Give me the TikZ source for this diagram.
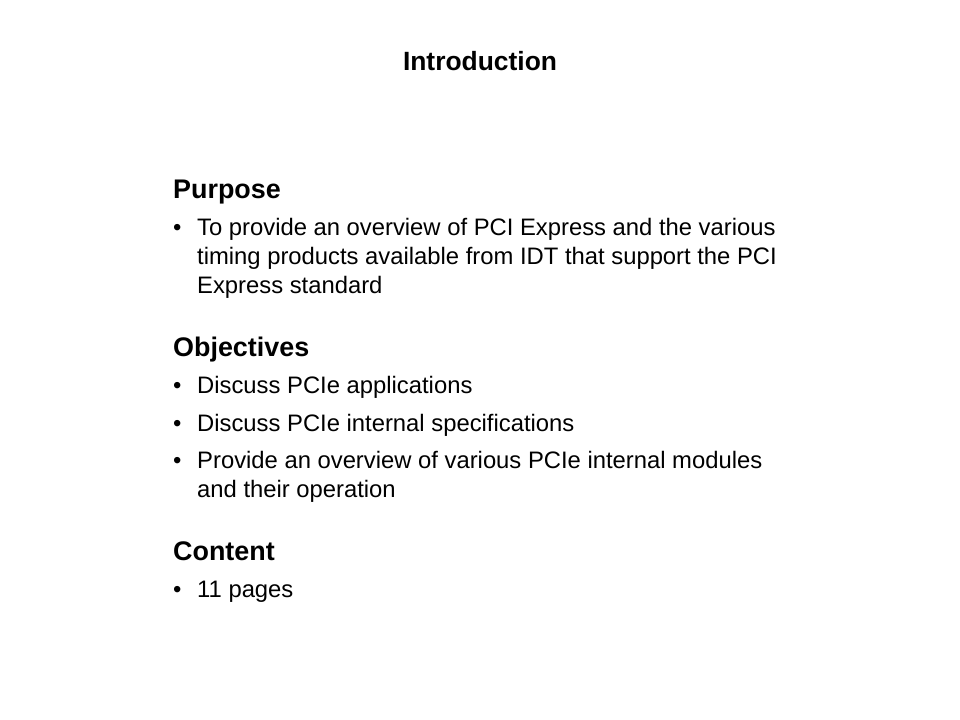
\documentclass[tikz,border=0pt]{standalone}
\usepackage{fontspec}
\setmainfont{Liberation Sans}
\usetikzlibrary{positioning}
\tikzset{
  head/.style={anchor=base west, inner sep=0pt, font=\fontsize{27}{32}\selectfont\bfseries},
  item/.style={anchor=base west, inner sep=0pt, font=\fontsize{23.9}{28}\selectfont},
  dot/.style={anchor=base west, inner sep=0pt, font=\fontsize{23.9}{28}\selectfont}
}
\begin{document}
\begin{tikzpicture}[x=1bp, y=-1bp]
  \useasboundingbox[fill=white] (0,0) rectangle (960,720);
  % Title
  \node[anchor=base, inner sep=0pt, font=\fontsize{26.5}{30}\selectfont\bfseries] (title) at (480,71) {Introduction};

  % Purpose
  \node[head] (purpose) at (173,198) {Purpose};
  \node[dot] (b1) at (173,235) {\textbullet};
  \node[item] (p1) at (197,235) {To provide an overview of PCI Express and the various};
  \node[item] (p2) at (197,264) {timing products available from IDT that support the PCI};
  \node[item] (p3) at (197,293) {Express standard};

  % Objectives
  \node[head] (objectives) at (173,356) {Objectives};
  \node[dot] (b2) at (173,393) {\textbullet};
  \node[item] (o1) at (197,393) {Discuss PCIe applications};
  \node[dot] (b3) at (173,431) {\textbullet};
  \node[item] (o2) at (197,431) {Discuss PCIe internal specifications};
  \node[dot] (b4) at (173,468) {\textbullet};
  \node[item] (o3) at (197,468) {Provide an overview of various PCIe internal modules};
  \node[item] (o4) at (197,497) {and their operation};

  % Content
  \node[head] (content) at (173,560) {Content};
  \node[dot] (b5) at (173,597) {\textbullet};
  \node[item] (c1) at (197,597) {11 pages};
\end{tikzpicture}
\end{document}
